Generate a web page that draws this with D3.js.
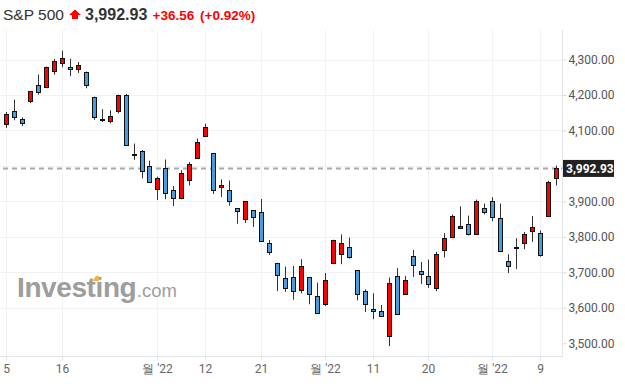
<!DOCTYPE html>
<html>
<head>
<meta charset="utf-8">
<script src="https://cdn.jsdelivr.net/npm/d3@7"></script>
<style>
  body { margin: 0; background: #fff; }
  svg { display: block; }
</style>
</head>
<body>
<script>
const w = 625,
  h = 390;

// daily candles, Aug 5 - Nov 11 2022
const dates = [
  '08-05', '08-08', '08-09', '08-10', '08-11', '08-12', '08-15', '08-16', '08-17', '08-18',
  '08-19', '08-22', '08-23', '08-24', '08-25', '08-26', '08-29', '08-30', '08-31', '09-01',
  '09-02', '09-06', '09-07', '09-08', '09-09', '09-12', '09-13', '09-14', '09-15', '09-16',
  '09-19', '09-20', '09-21', '09-22', '09-23', '09-26', '09-27', '09-28', '09-29', '09-30',
  '10-03', '10-04', '10-05', '10-06', '10-07', '10-10', '10-11', '10-12', '10-13', '10-14',
  '10-17', '10-18', '10-19', '10-20', '10-21', '10-24', '10-25', '10-26', '10-27', '10-28',
  '10-31', '11-01', '11-02', '11-03', '11-04', '11-07', '11-08', '11-09', '11-10', '11-11'
];
const open = [
  4116, 4156, 4133, 4181, 4227, 4225, 4269, 4290, 4280, 4273,
  4266, 4195, 4133, 4127, 4153, 4199, 4035, 4041, 4001, 3937,
  3995, 3931, 3909, 3960, 4023, 4084, 4037, 3941, 3932, 3881,
  3850, 3875, 3871, 3782, 3727, 3683, 3686, 3652, 3687, 3633,
  3610, 3726, 3753, 3772, 3707, 3648, 3596, 3591, 3520, 3690,
  3639, 3746, 3703, 3689, 3657, 3764, 3799, 3826, 3835, 3808,
  3882, 3902, 3853, 3733, 3767, 3781, 3817, 3811, 3860, 3964
];
const high = [
  4152, 4187, 4137, 4211, 4258, 4280, 4302, 4325, 4302, 4293,
  4266, 4195, 4160, 4157, 4201, 4203, 4063, 4045, 4015, 3970,
  4018, 3943, 3988, 4011, 4077, 4119, 4037, 3962, 3959, 3881,
  3900, 3876, 3907, 3791, 3727, 3716, 3718, 3737, 3687, 3671,
  3698, 3792, 3807, 3798, 3707, 3652, 3641, 3608, 3685, 3712,
  3690, 3763, 3729, 3736, 3758, 3811, 3863, 3886, 3860, 3905,
  3894, 3912, 3894, 3751, 3796, 3814, 3859, 3818, 3958, 4001
];
const low = [
  4107, 4129, 4112, 4177, 4201, 4220, 4257, 4278, 4253, 4262,
  4219, 4130, 4124, 4120, 4148, 4058, 4017, 3965, 3955, 3904,
  3906, 3887, 3906, 3945, 4023, 4084, 3921, 3912, 3888, 3837,
  3839, 3828, 3789, 3749, 3647, 3645, 3623, 3641, 3610, 3584,
  3605, 3726, 3723, 3739, 3621, 3588, 3568, 3574, 3492, 3580,
  3639, 3687, 3667, 3656, 3647, 3742, 3799, 3824, 3804, 3808,
  3863, 3844, 3759, 3698, 3709, 3765, 3786, 3744, 3860, 3945
];
const close = [
  4145, 4140, 4122, 4210, 4207, 4280, 4297, 4305, 4274, 4284,
  4228, 4138, 4129, 4141, 4199, 4058, 4031, 3986, 3955, 3967,
  3924, 3908, 3980, 4006, 4067, 4110, 3933, 3946, 3901, 3873,
  3900, 3856, 3790, 3758, 3693, 3655, 3647, 3719, 3640, 3586,
  3678, 3791, 3783, 3745, 3640, 3612, 3589, 3577, 3670, 3583,
  3678, 3720, 3695, 3666, 3753, 3797, 3859, 3831, 3807, 3901,
  3872, 3856, 3760, 3720, 3771, 3807, 3828, 3749, 3956, 3992.93
];

const lastPrice = 3992.93;
const gridTicks = [3500, 3600, 3700, 3800, 3900, 4000, 4100, 4200, 4300];
// 4,000.00 sits under the price tag, so it gets no label
const yTicks = [3500, 3600, 3700, 3800, 3900, 4100, 4200, 4300];
const xTickDates = ['08-05', '08-16', '09-01', '09-12', '09-21', '10-03', '10-11', '10-20', '11-01', '11-09'];
const xTickLabels = ['5', '16', '월 \'22', '12', '21', '월 \'22', '11', '20', '월 \'22', '9'];

const plotLeft = 0,
  plotRight = 562,
  plotTop = 30,
  plotBottom = 357;

const upColor = '#ff0000',
  downColor = '#4a9bdb';

const svg = d3.select('body')
  .append('svg')
  .attr('width', w)
  .attr('height', h);

const xScale = d3.scaleBand()
  .domain(dates)
  .range([2, 560]);

const yScale = d3.scaleLinear()
  .domain([3500, 4300])
  .range([343.3, 59.5]);

const cx = d => Math.round(xScale(d) + xScale.bandwidth() / 2) + 0.5;

// grid
svg.append('g')
  .selectAll('line')
  .data(gridTicks.filter(t => t !== 3500))
  .enter()
  .append('line')
  .attr('x1', plotLeft)
  .attr('x2', plotRight)
  .attr('y1', d => Math.round(yScale(d)) + 0.5)
  .attr('y2', d => Math.round(yScale(d)) + 0.5)
  .attr('stroke', '#f2f2f2');

svg.append('g')
  .selectAll('line')
  .data(xTickDates)
  .enter()
  .append('line')
  .attr('x1', d => cx(d))
  .attr('x2', d => cx(d))
  .attr('y1', plotTop)
  .attr('y2', plotBottom)
  .attr('stroke', '#f2f2f2');

// watermark
const wm = svg.append('g').attr('fill', '#9d9d9d');
const wmMain = wm.append('text')
  .attr('x', 17)
  .attr('y', 297)
  .attr('font-family', 'Liberation Sans, Arial, sans-serif')
  .attr('font-weight', 'bold')
  .attr('font-size', '28px')
  .attr('letter-spacing', '-0.4px')
  .text('Investing');
const wmEnd = 17 + wmMain.node().getComputedTextLength();
wm.append('text')
  .attr('x', wmEnd + 0.5)
  .attr('y', 297)
  .attr('font-family', 'Liberation Sans, Arial, sans-serif')
  .attr('font-size', '18.5px')
  .text('.com');
svg.append('path')
  .attr('d', 'M92,281 L96,276 L99,276 L99,281 Z')
  .attr('fill', '#f5b24a');

// axes
const xAxis = d3.axisBottom(xScale)
  .tickValues(xTickDates)
  .tickSize(4)
  .tickFormat((d, i) => xTickLabels[i]);

const gx = svg.append('g')
  .attr('transform', `translate(0, ${plotBottom - 0.5})`)
  .call(xAxis);
gx.select('.domain').remove();
gx.selectAll('.tick').attr('transform', d => `translate(${cx(d)}, 0)`);
gx.selectAll('.tick line').attr('stroke', '#e3e5ea');
gx.selectAll('.tick text')
  .attr('y', 8)
  .attr('fill', '#666')
  .attr('font-family', 'Roboto, sans-serif')
  .attr('font-size', '12px');

const yAxis = d3.axisRight(yScale)
  .tickValues(yTicks)
  .tickSize(4)
  .tickPadding(2)
  .tickFormat(d3.format(',.2f'));

const gy = svg.append('g')
  .attr('transform', `translate(${plotRight + 0.5}, 0)`)
  .call(yAxis);
gy.select('.domain').remove();
gy.selectAll('.tick line').attr('stroke', '#d9dce3');
gy.selectAll('.tick text')
  .attr('fill', '#555')
  .attr('font-family', 'Roboto, sans-serif')
  .attr('font-size', '12px');

// plot border lines
svg.append('line')
  .attr('x1', plotLeft)
  .attr('x2', plotRight + 1)
  .attr('y1', plotBottom - 0.5)
  .attr('y2', plotBottom - 0.5)
  .attr('stroke', '#e3e5ea');
svg.append('line')
  .attr('x1', plotRight + 0.5)
  .attr('x2', plotRight + 0.5)
  .attr('y1', plotTop)
  .attr('y2', plotBottom)
  .attr('stroke', '#e3e5ea');

// last price line
svg.append('line')
  .attr('x1', plotLeft + 3)
  .attr('x2', plotRight)
  .attr('y1', yScale(lastPrice))
  .attr('y2', yScale(lastPrice))
  .attr('stroke', '#aaa')
  .attr('stroke-width', 2)
  .attr('stroke-dasharray', '5,4');

// candles
const candles = svg.append('g')
  .selectAll('g')
  .data(dates)
  .enter()
  .append('g');

candles.append('line')
  .attr('x1', d => cx(d))
  .attr('x2', d => cx(d))
  .attr('y1', (d, i) => yScale(high[i]))
  .attr('y2', (d, i) => yScale(low[i]))
  .attr('stroke', '#333');

candles.append('rect')
  .attr('x', d => cx(d) - 2)
  .attr('width', 4)
  .attr('y', (d, i) => Math.round(yScale(Math.max(open[i], close[i]))) + 0.5)
  .attr('height', (d, i) => Math.max(1, Math.round(Math.abs(yScale(open[i]) - yScale(close[i])))))
  .attr('fill', (d, i) => close[i] >= open[i] ? upColor : downColor)
  .attr('stroke', '#111')
  .attr('stroke-width', 1);

// last price tag
const tagY = yScale(lastPrice);
svg.append('rect')
  .attr('x', plotRight + 1)
  .attr('y', tagY - 8.5)
  .attr('width', 51)
  .attr('height', 17)
  .attr('fill', '#222');
svg.append('text')
  .attr('x', plotRight + 4)
  .attr('y', tagY + 4.5)
  .attr('fill', '#fff')
  .attr('font-family', 'Roboto, sans-serif')
  .attr('font-weight', 'bold')
  .attr('font-size', '12px')
  .text(d3.format(',.2f')(lastPrice));

// header
const header = svg.append('text')
  .attr('y', 19.5)
  .attr('font-family', 'Liberation Sans, Arial, sans-serif');
header.append('tspan')
  .attr('x', 3)
  .attr('fill', '#333')
  .attr('font-size', '15.5px')
  .text('S&P 500');
header.append('tspan')
  .attr('x', 85)
  .attr('fill', '#333')
  .attr('font-size', '16px')
  .attr('font-weight', 'bold')
  .text(d3.format(',.2f')(lastPrice));
header.append('tspan')
  .attr('x', 152.5)
  .attr('fill', '#f00')
  .attr('font-size', '13.5px')
  .attr('font-weight', 'bold')
  .text('+36.56');
header.append('tspan')
  .attr('x', 200)
  .attr('fill', '#f00')
  .attr('font-size', '13.5px')
  .attr('font-weight', 'bold')
  .text('(+0.92%)');

svg.append('path')
  .attr('d', 'M75,9.5 L81,15 L78,15 L78,19 L72,19 L72,15 L69,15 Z')
  .attr('fill', '#f00');
</script>
</body>
</html>
